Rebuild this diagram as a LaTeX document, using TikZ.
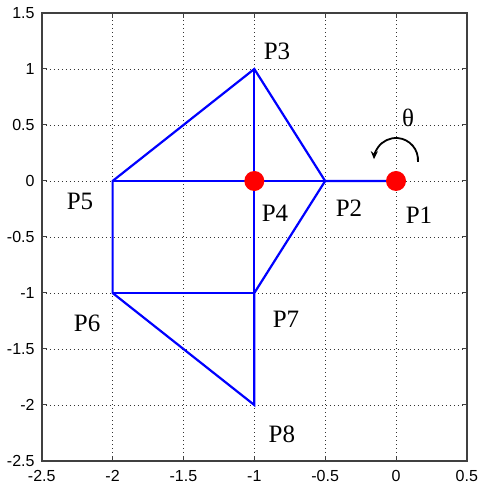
\documentclass[tikz,border=0pt]{standalone}
\usepackage{fontspec}
\setmainfont{Liberation Serif}
\newfontfamily\ticksfont{Liberation Sans}
\usetikzlibrary{arrows.meta}
\begin{document}
\begin{tikzpicture}[
  edge/.style={blue, line width=2.2bp},
  griddot/.style={black!80, line width=0.9bp, dash pattern=on 0.9bp off 3.1bp},
  frame/.style={black!75, line width=1.5bp},
  tickl/.style={font=\ticksfont\fontsize{16bp}{16bp}\selectfont, inner sep=0pt},
  plabel/.style={font=\fontsize{25bp}{25bp}\selectfont, inner sep=0pt},
  reddot/.style={circle, fill=red, inner sep=0pt, minimum size=20bp},
  tickmark/.style={black!75, line width=1bp}
]
\useasboundingbox (0,0) rectangle (478bp,484bp);
\begin{scope}[shift={(396bp,303bp)}, x=141.7bp, y=112bp]
  % grid
  \foreach \gx in {-2,-1.5,-1,-0.5,0}
    \draw[griddot] (\gx,-2.5) -- (\gx,1.5);
  \foreach \gy in {-2,-1.5,-1,-0.5,0,0.5,1}
    \draw[griddot] (-2.5,\gy) -- (0.5,\gy);
  % ticks
  \foreach \gx in {-2,-1.5,-1,-0.5,0}{
    \draw[tickmark] (\gx,-2.5) -- ++(0,5bp);
    \draw[tickmark] (\gx,1.5) -- ++(0,-5bp);
  }
  \foreach \gy in {-2,-1.5,-1,-0.5,0,0.5,1}{
    \draw[tickmark] (-2.5,\gy) -- ++(5bp,0);
    \draw[tickmark] (0.5,\gy) -- ++(-5bp,0);
  }
  % frame
  \draw[frame] (-2.5,-2.5) rectangle (0.5,1.5);
  % tick labels
  \foreach \gx/\lab in {-2.5/-2.5,-2/-2,-1.5/-1.5,-1/-1,-0.5/-0.5,0/0,0.5/0.5}
    \node[tickl] (xl\lab) at ([yshift=-15bp]\gx,-2.5) {\lab};
  \foreach \gy/\lab in {1.5/1.5,1/1,0.5/0.5,0/0,-0.5/-0.5,-1/-1,-1.5/-1.5,-2/-2,-2.5/-2.5}
    \node[tickl, anchor=east] (yl\lab) at ([xshift=-7bp]-2.5,\gy) {\lab};
  % points
  \coordinate (P1) at (0,0);
  \coordinate (P2) at (-0.5,0);
  \coordinate (P3) at (-1,1);
  \coordinate (P4) at (-1,0);
  \coordinate (P5) at (-2,0);
  \coordinate (P6) at (-2,-1);
  \coordinate (P7) at (-1,-1);
  \coordinate (P8) at (-1,-2);
  % edges
  \draw[edge, line join=miter] (P1) -- (P2) -- (P3) -- (P5) -- (P6) -- (P8) -- (P7) -- (P2);
  \draw[edge] (P5) -- (P2);
  \draw[edge] (P3) -- (P8);
  \draw[edge] (P6) -- (P7);
  % red dots
  \node[reddot] (d1) at (P1) {};
  \node[reddot] (d4) at (P4) {};
  % labels
  \node[plabel] (l3) at (-0.84,1.16) {P3};
  \node[plabel] (l1) at (0.162,-0.304) {P1};
  \node[plabel] (l2) at (-0.332,-0.241) {P2};
  \node[plabel] (l4) at (-0.854,-0.286) {P4};
  \node[plabel] (l5) at (-2.23,-0.179) {P5};
  \node[plabel] (l6) at (-2.18,-1.268) {P6};
  \node[plabel] (l7) at (-0.776,-1.232) {P7};
  \node[plabel] (l8) at (-0.805,-2.259) {P8};
  \node[plabel] (th) at (0.085,0.5625) {θ};
  % rotation arrow
  \coordinate (ac) at (0,0.1875);
  \coordinate (as) at ([shift={(-5:22bp)}]ac);
  \draw[line width=1.8bp, -{Stealth[length=8bp,width=7bp]}] (as) arc[start angle=-5, end angle=178, radius=22bp];
\end{scope}
\end{tikzpicture}
\end{document}
